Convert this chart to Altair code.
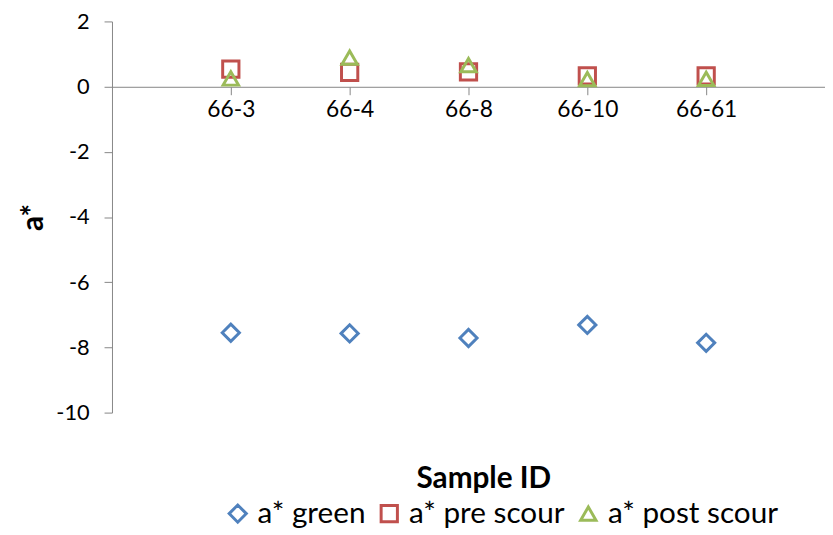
import altair as alt
import pandas as pd

samples = ["66-3", "66-4", "66-8", "66-10", "66-61"]
a_green = [-7.55, -7.57, -7.71, -7.31, -7.86]
a_pre_scour = [0.54, 0.44, 0.45, 0.33, 0.33]
a_post_scour = [0.25, 0.89, 0.66, 0.23, 0.24]

series_names = ["a* green", "a* pre scour", "a* post scour"]
series_colors = ["#4F81BD", "#C0504D", "#9BBB59"]
series_shapes = ["diamond", "square", "triangle-up"]
series_sizes = [300, 240, 260]
y_ticks = [-10, -8, -6, -4, -2, 0, 2]

rows = []
for k, (name, vals) in enumerate(zip(series_names, [a_green, a_pre_scour, a_post_scour])):
    for s, v in zip(samples, vals):
        rows.append({"Sample": s, "Series": name, "value": v, "order": k})
df = pd.DataFrame(rows)

FONT = "Lato"
W, H = 720, 395

xscale = alt.Scale(type="point", domain=samples, padding=1)
yscale = alt.Scale(domain=[-10, 2], nice=False, zero=False)

points = alt.Chart(df).mark_point(filled=False, strokeWidth=3, opacity=1).encode(
    x=alt.X("Sample:N", scale=xscale, sort=samples,
            axis=alt.Axis(title=None, orient="bottom", offset=-329, labelAngle=0,
                          domainColor="#868686", tickColor="#868686", tickSize=8,
                          labelPadding=4, labelFontSize=23, labelFont=FONT,
                          labelColor="#000000", grid=False)),
    y=alt.Y("value:Q", scale=yscale,
            axis=alt.Axis(title="a*", values=y_ticks, grid=False,
                          labelExpr="'' + datum.value",
                          domainColor="#868686", tickColor="#868686", tickSize=8,
                          labelPadding=15, labelFontSize=22, labelFont=FONT,
                          labelColor="#000000", titleFont=FONT, titleFontSize=30,
                          titleFontWeight="bold", titleColor="#000000", titlePadding=7)),
    color=alt.Color("Series:N", scale=alt.Scale(domain=series_names, range=series_colors),
                    legend=alt.Legend(title=None, orient="none", direction="horizontal",
                                      legendX=112, legendY=482, labelFont=FONT,
                                      labelFontSize=30, labelColor="#000000",
                                      labelLimit=0,
                                      symbolStrokeWidth=3, symbolSize=200,
                                      labelOffset=5, columnPadding=8)),
    shape=alt.Shape("Series:N", scale=alt.Scale(domain=series_names, range=series_shapes)),
    size=alt.Size("Series:N", scale=alt.Scale(domain=series_names, range=series_sizes), legend=None),
    order=alt.Order("order:Q"),
)

xtitle = alt.Chart(df).mark_point(opacity=0).encode(
    x=alt.X("Sample:N", scale=xscale, sort=samples,
            axis=alt.Axis(title="Sample ID", orient="bottom", labels=False, ticks=False,
                          domain=False, grid=False, titleFont=FONT, titleFontSize=30,
                          titleFontWeight="bold", titleColor="#000000", titlePadding=52,
                          titleX=375)),
)

chart = alt.layer(points, xtitle).resolve_axis(x="independent").properties(
    width=W, height=H,
    autosize=alt.AutoSizeParams(type="none"),
    padding={"left": 105, "top": 11, "right": 0, "bottom": 118},
).configure(font=FONT, view=alt.ViewConfig(stroke=None))

chart.save("out.html", embed_options={"renderer": "svg", "actions": False})
